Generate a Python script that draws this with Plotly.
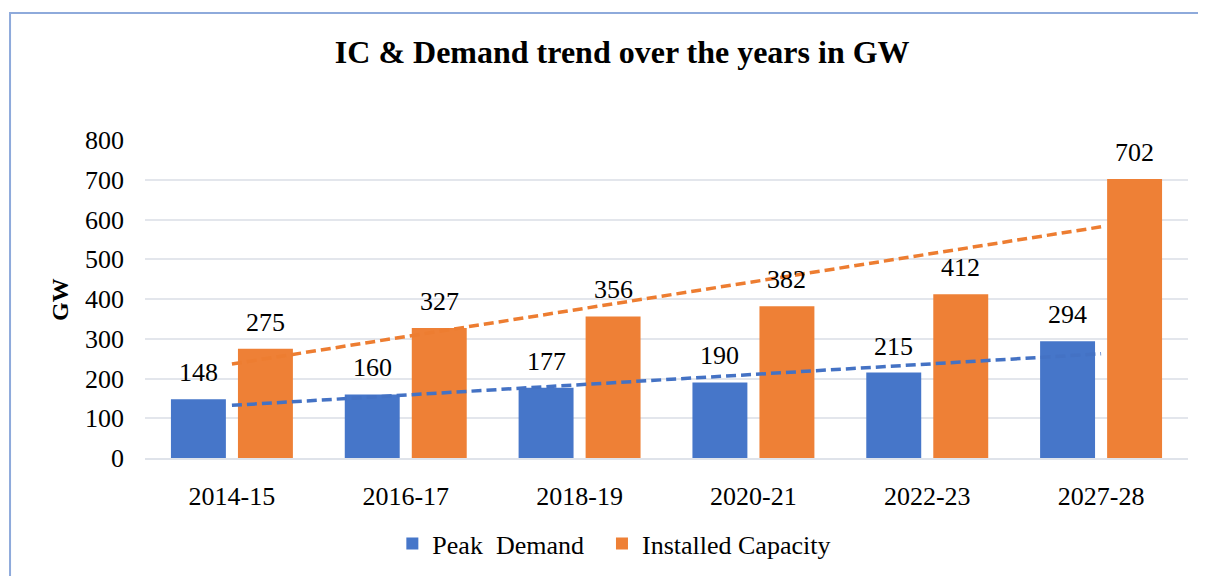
import numpy as np
import plotly.graph_objects as go

years = ["2014-15", "2016-17", "2018-19", "2020-21", "2022-23", "2027-28"]
peak_demand = [148, 160, 177, 190, 215, 294]
installed_capacity = [275, 327, 356, 382, 412, 702]
y_ticks = [0, 100, 200, 300, 400, 500, 600, 700, 800]

BLUE = "#4676c9"
ORANGE = "#ee8036"
FONT = "Liberation Serif"

idx = np.arange(1, len(years) + 1)
def trend(vals):
    m, c = np.polyfit(idx, vals, 1)
    return m * idx + c

fig = go.Figure()
fig.add_trace(go.Bar(x=years, y=peak_demand, name="Peak\u00a0 Demand\u00a0\u00a0",
                     marker=dict(color=BLUE, line=dict(width=0))))
fig.add_trace(go.Bar(x=years, y=installed_capacity, name="Installed Capacity",
                     marker=dict(color=ORANGE, line=dict(width=0))))
fig.add_trace(go.Scatter(x=years, y=trend(peak_demand), mode="lines", showlegend=False,
                         line=dict(color="#4472c4", width=3.5, dash="10px,5px")))
fig.add_trace(go.Scatter(x=years, y=trend(installed_capacity), mode="lines", showlegend=False,
                         line=dict(color="#ed7d31", width=3.5, dash="10px,5px")))

for series, shift in ((peak_demand, -33.5), (installed_capacity, 33.5)):
    for yr, v in zip(years, series):
        fig.add_annotation(x=yr, y=v, text=str(v), showarrow=False, xshift=shift,
                           yanchor="bottom", yshift=10,
                           font=dict(family=FONT, size=26, color="black"))

fig.add_annotation(text="<b>GW</b>", xref="paper", yref="paper", x=-0.0815, y=0.5,
                   textangle=-90, showarrow=False, xanchor="center", yanchor="middle",
                   font=dict(family=FONT, size=24, color="black"))

fig.add_shape(type="rect", xref="paper", yref="paper", x0=-0.1294, x1=1.2, y0=-0.6, y1=1.399,
              line=dict(color="#8eaadb", width=2), fillcolor="rgba(0,0,0,0)", layer="below")

fig.update_layout(
    width=1206, height=576,
    margin=dict(l=137, r=26, t=132, b=126),
    paper_bgcolor="white", plot_bgcolor="white",
    title=dict(text="<b>IC & Demand trend over the years in GW</b>", x=0.5093, xanchor="center",
               y=1 - 44 / 576, yanchor="middle", yref="container",
               font=dict(family=FONT, size=32, color="black")),
    barmode="group", bargap=0.229, bargroupgap=0.18,
    font=dict(family=FONT, size=26, color="black"),
    legend=dict(orientation="h", x=0.450, xanchor="center", y=-0.269, yanchor="middle",
                font=dict(family=FONT, size=26, color="black"), itemwidth=30,
                traceorder="normal"),
    xaxis=dict(showgrid=False, showline=True, linecolor="#dfe3ea", linewidth=2,
               ticks="", ticklabelstandoff=14, tickfont=dict(family=FONT, size=26)),
    yaxis=dict(range=[0, 800], tickvals=y_ticks, showgrid=True, gridcolor="#e3e6ec", gridwidth=2,
               zeroline=False, ticks="", ticklabelstandoff=20,
               tickfont=dict(family=FONT, size=26)),
)

fig.write_html("out.html")
